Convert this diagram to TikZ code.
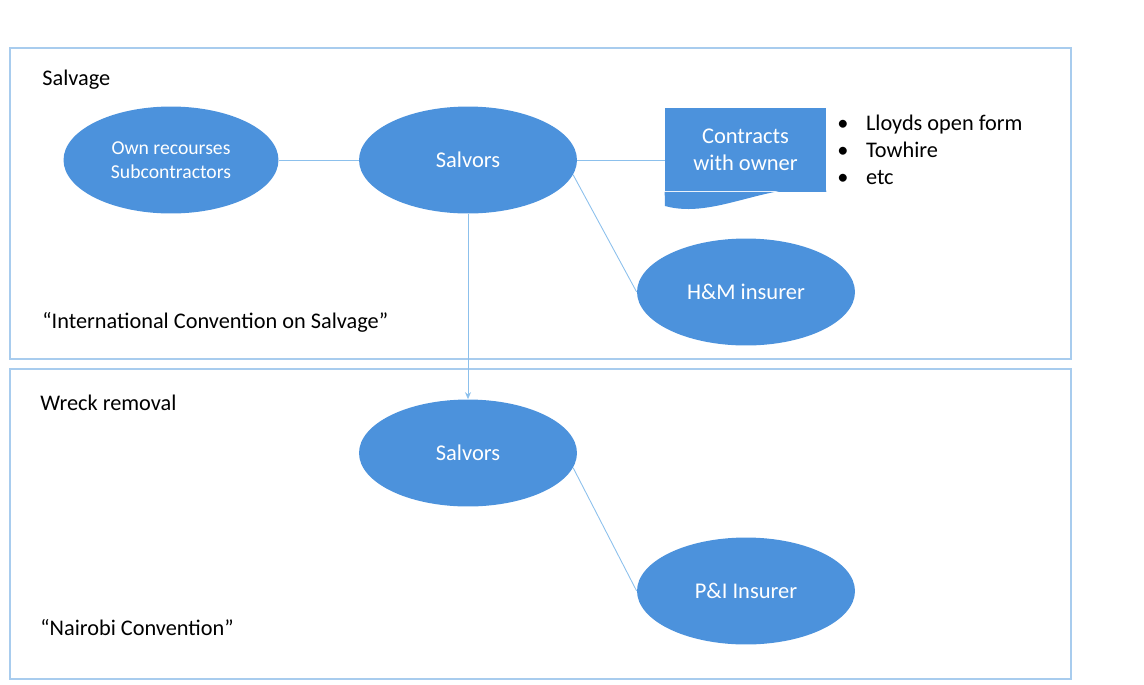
\documentclass[tikz,border=0pt]{standalone}
\usepackage{fontspec}
\setmainfont{Carlito}
\usepackage{tikz}
\usetikzlibrary{positioning,arrows.meta,shapes.geometric}

\definecolor{ovalblue}{RGB}{76,146,220}
\definecolor{framebl}{RGB}{168,204,238}
\definecolor{linkbl}{RGB}{140,192,236}

\begin{document}
\begin{tikzpicture}[
x=0.02cm, y=-0.02cm,
oval/.style={ellipse, fill=ovalblue, inner sep=0pt, minimum width=4.36cm, minimum height=2.14cm, align=center, text=white, font=\fontsize{12.8}{15}\selectfont},
frame/.style={draw=framebl, line width=0.6pt},
link/.style={draw=linkbl, line width=0.5pt},
label/.style={anchor=west, inner sep=0pt, font=\fontsize{12.7}{15}\selectfont}
]
\useasboundingbox (0,0) rectangle (1144,684);

% section frames
\draw[frame] (10,48) rectangle (1071,359);
\draw[frame] (10,369) rectangle (1071,679);
\node[label] (salvage) at (42,80) {Salvage};
\node[label] (conv) at (42,322) {``International Convention on Salvage''};
\node[label] (wreck) at (40,403) {Wreck removal};
\node[label] (nairobi) at (40,628) {``Nairobi Convention''};

% salvage part
\node[oval, minimum width=4.3cm, font=\fontsize{11.2}{13.6}\selectfont] (own) at (171,160) {Own recourses\\Subcontractors};
\node[oval] (salvors) at (468,160) {Salvors};
\node[oval] (hm) at (746,292) {H\&M insurer};
\fill[ovalblue] (665,108) rectangle (826,191);
\node[minimum width=3.22cm, minimum height=1.66cm, inner sep=0pt, align=center, text=white, font=\fontsize{12.8}{15.3}\selectfont] (contract) at (745.5,150) {Contracts\\with owner};
\fill[ovalblue] (contract.south east) -- (contract.south west) -- (665,206)
  .. controls (715,220) and (770,180) .. (826,190) -- cycle;
\node[anchor=north west, inner sep=0pt, align=left, font=\fontsize{12.7}{15.4}\selectfont] (items) at (837,115)
  {\textbullet\hspace{10pt}Lloyds open form\\\textbullet\hspace{10pt}Towhire\\\textbullet\hspace{10pt}etc};

% wreck removal part
\node[oval] (salvors2) at (468,453) {Salvors};
\node[oval] (pi) at (746,591) {P\&I Insurer};

\draw[link] (own.east) -- (salvors.west);
\draw[link] (salvors.east) -- (salvors.east -| contract.west);
\draw[link] (salvors.-8) -- (hm.west);
\draw[link, -{Stealth[length=1.4mm, width=1.2mm]}] (salvors.south) -- (salvors2.north);
\draw[link] (salvors2.-8) -- (pi.west);
\end{tikzpicture}
\end{document}
